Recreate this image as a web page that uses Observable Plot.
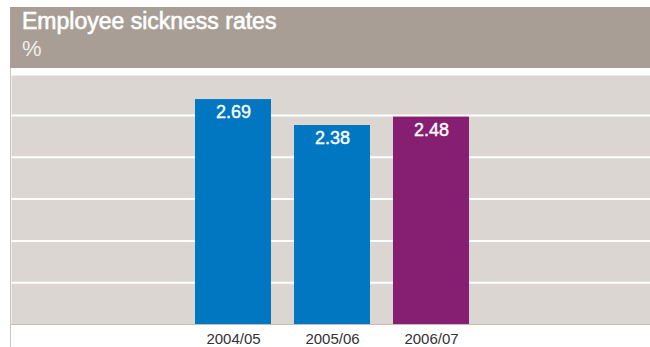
<!DOCTYPE html>
<html>
<head>
<meta charset="utf-8">
<script src="https://cdn.jsdelivr.net/npm/d3@7"></script>
<script src="https://cdn.jsdelivr.net/npm/@observablehq/plot@0.6"></script>
<style>
  html, body { margin: 0; padding: 0; background: #ffffff; }
  body { width: 650px; height: 347px; position: relative; overflow: hidden; font-family: "Liberation Sans", Arial, sans-serif; }
  #header { position: absolute; left: 10px; top: 7px; width: 640px; height: 61px; background: #a89e95; }
  #title { position: absolute; left: 12px; top: 3px; font-size: 23px; line-height: 1; font-weight: normal; color: #ffffff; -webkit-text-stroke: 0.6px #ffffff; white-space: nowrap; }
  #unit { position: absolute; left: 12px; top: 31px; font-size: 22px; line-height: 1; color: #f1eeea; }
  #chart { position: absolute; left: 10px; top: 68px; width: 639px; height: 279px; border-left: 1px solid #cec6be; }
  #chart svg { display: block; }
</style>
</head>
<body>
<div id="header">
  <div id="title">Employee sickness rates</div>
  <div id="unit">%</div>
</div>
<div id="chart"></div>
<script>
const years = ["2004/05", "2005/06", "2006/07"];
const rates = [2.69, 2.38, 2.48];
const barColors = ["#0077c0", "#0077c0", "#861f71"];
const gridTicks = [0.5, 1, 1.5, 2, 2.5];

const data = years.map((year, i) => ({year, rate: rates[i], color: barColors[i]}));

const chart = Plot.plot({
  width: 639,
  height: 279,
  marginTop: 7,
  marginBottom: 23,
  marginLeft: 0,
  marginRight: 0,
  style: {fontFamily: "'Liberation Sans', Arial, sans-serif", background: "transparent"},
  x: {domain: years, range: [161, 481], padding: 0.232, label: null},
  y: {domain: [0, 2.978], axis: null, label: null},
  color: {type: "identity"},
  marks: [
    Plot.frame({fill: "#dbd6d1", stroke: null}),
    Plot.gridY(gridTicks, {stroke: "#ffffff", strokeOpacity: 1, strokeWidth: 2}),
    Plot.barY(data, {x: "year", y: "rate", fill: "color"}),
    Plot.ruleY([0], {stroke: "#c4bbb2"}),
    Plot.text(data, {x: "year", y: "rate", text: d => d.rate.toFixed(2), fill: "#ffffff", stroke: "#ffffff", strokeWidth: 0.4, dy: 13, fontSize: 18}),
    Plot.axisX({tickSize: 0, tickPadding: 9, fontSize: 15, color: "#333333"})
  ]
});
document.getElementById("chart").appendChild(chart);
</script>
</body>
</html>
